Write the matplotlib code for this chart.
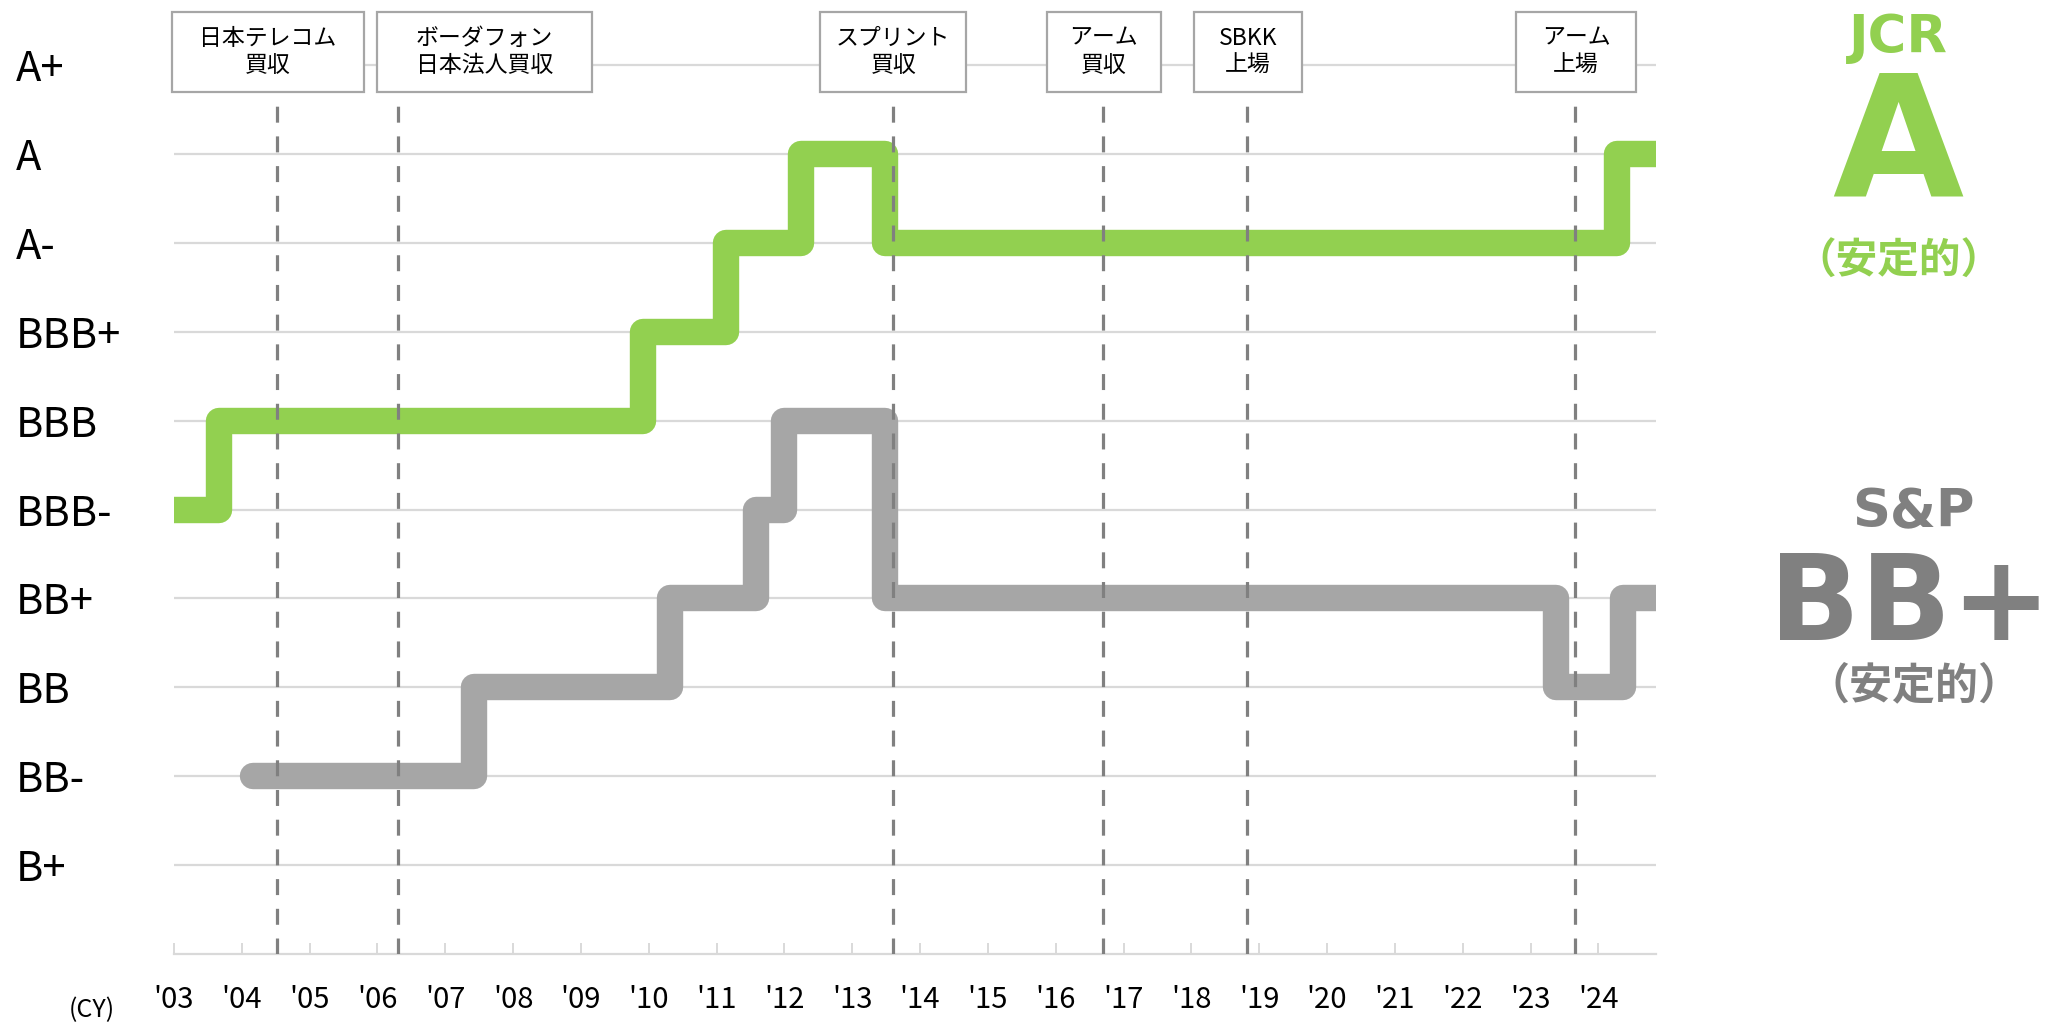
import matplotlib
matplotlib.use('Agg')
import matplotlib.pyplot as plt
from matplotlib.patches import Rectangle

plt.rcParams['font.family'] = ['Noto Sans CJK JP', 'DejaVu Sans']

# rating scale, bottom to top
ratings = ['B+', 'BB-', 'BB', 'BB+', 'BBB-', 'BBB', 'BBB+', 'A-', 'A', 'A+']

# JCR rating history (date of change, new rating)
jcr_dates = [2002.8, 2003.66, 2009.92, 2011.14, 2012.24, 2013.49, 2024.27, 2025.2]
jcr_ratings = ['BBB-', 'BBB', 'BBB+', 'A-', 'A', 'A-', 'A', 'A']

# S&P rating history
sp_dates = [2004.16, 2007.43, 2010.31, 2011.58, 2012.0, 2013.49, 2023.38, 2024.36, 2025.2]
sp_ratings = ['BB-', 'BB', 'BB+', 'BBB-', 'BBB', 'BB+', 'BB', 'BB+', 'BB+']

# events
event_dates = [2004.52, 2006.30, 2013.60, 2016.70, 2018.82, 2023.65]
event_labels = ['日本テレコム\n買収', 'ボーダフォン\n日本法人買収', 'スプリント\n買収',
                'アーム\n買収', 'SBKK\n上場', 'アーム\n上場']

years = list(range(2003, 2025))
year_labels = ["'%02d" % (y % 100) for y in years]

# layout of the event boxes (left, right in x units)
box_spans = [(2002.97, 2005.80), (2005.99, 2009.17), (2012.53, 2014.68),
             (2015.87, 2017.55), (2018.04, 2019.63), (2022.79, 2024.55)]

GREEN = '#92d050'
GRAY = '#a6a6a6'
DARK = '#808080'
GRID = '#d9d9d9'

fig = plt.figure(figsize=(20.54, 10.24), dpi=100)
ax = fig.add_axes([174 / 2054, 70 / 1024, 1482 / 2054, 951 / 1024])
ax.set_xlim(2003.0, 2024.85)
ax.set_ylim(-1, 9.7)

for i in range(len(ratings)):
    ax.axhline(i, color=GRID, lw=1.6, zorder=1)

jy = [ratings.index(r) for r in jcr_ratings]
sy = [ratings.index(r) for r in sp_ratings]
ax.plot(jcr_dates, jy, drawstyle='steps-post', color=GREEN, lw=19,
        solid_joinstyle='round', solid_capstyle='round', zorder=3)
ax.plot(sp_dates, sy, drawstyle='steps-post', color=GRAY, lw=19,
        solid_joinstyle='round', solid_capstyle='round', zorder=3)

for d in event_dates:
    ax.plot([d, d], [-1, 8.62], color=DARK, lw=2.3, dashes=(5, 4.3), zorder=4)

for (l, r), lab in zip(box_spans, event_labels):
    ax.add_patch(Rectangle((l, 8.70), r - l, 0.90, facecolor='white', edgecolor=GRAY,
                           lw=1.6, zorder=5, clip_on=False))
    ax.text((l + r) / 2, 9.15, lab, ha='center', va='center', fontsize=16.5,
            linespacing=1.25, zorder=6)

for s in ['top', 'right', 'left']:
    ax.spines[s].set_visible(False)
ax.spines['bottom'].set_color(GRID)
ax.spines['bottom'].set_linewidth(1.6)
ax.spines['bottom'].set_position(('data', -1))

ax.set_xticks(years)
ax.set_xticklabels(year_labels, fontsize=21)
ax.tick_params(axis='x', direction='in', length=8, width=1.4, color=GRID, pad=22)

ax.set_yticks(range(len(ratings)))
ax.set_yticklabels(ratings, fontsize=30, ha='left')
ax.tick_params(axis='y', length=0, pad=114)

fig.text(92 / 2054, 1 - 1010 / 1024, '(CY)', fontsize=18, ha='center', va='center')

fig.text(1898 / 2054, 1 - 53 / 1024, 'JCR', fontsize=38, fontweight='bold',
         color=GREEN, ha='center', va='baseline', family='DejaVu Sans')
fig.text(1898 / 2054, 1 - 197 / 1024, 'A', fontsize=122, fontweight='bold',
         color=GREEN, ha='center', va='baseline', family='DejaVu Sans')
fig.text(1898 / 2054, 1 - 262 / 1024, '（安定的）', fontsize=30, fontweight='bold',
         color=GREEN, ha='center', va='center')

fig.text(1914 / 2054, 1 - 527 / 1024, 'S&P', fontsize=38, fontweight='bold',
         color=DARK, ha='center', va='baseline', family='DejaVu Sans')
fig.text(1910 / 2054, 1 - 640 / 1024, 'BB+', fontsize=86, fontweight='bold',
         color=DARK, ha='center', va='baseline', family='DejaVu Sans')
fig.text(1914 / 2054, 1 - 685 / 1024, '（安定的）', fontsize=31, fontweight='bold',
         color=DARK, ha='center', va='center')

fig.savefig('out.png', dpi=100)
